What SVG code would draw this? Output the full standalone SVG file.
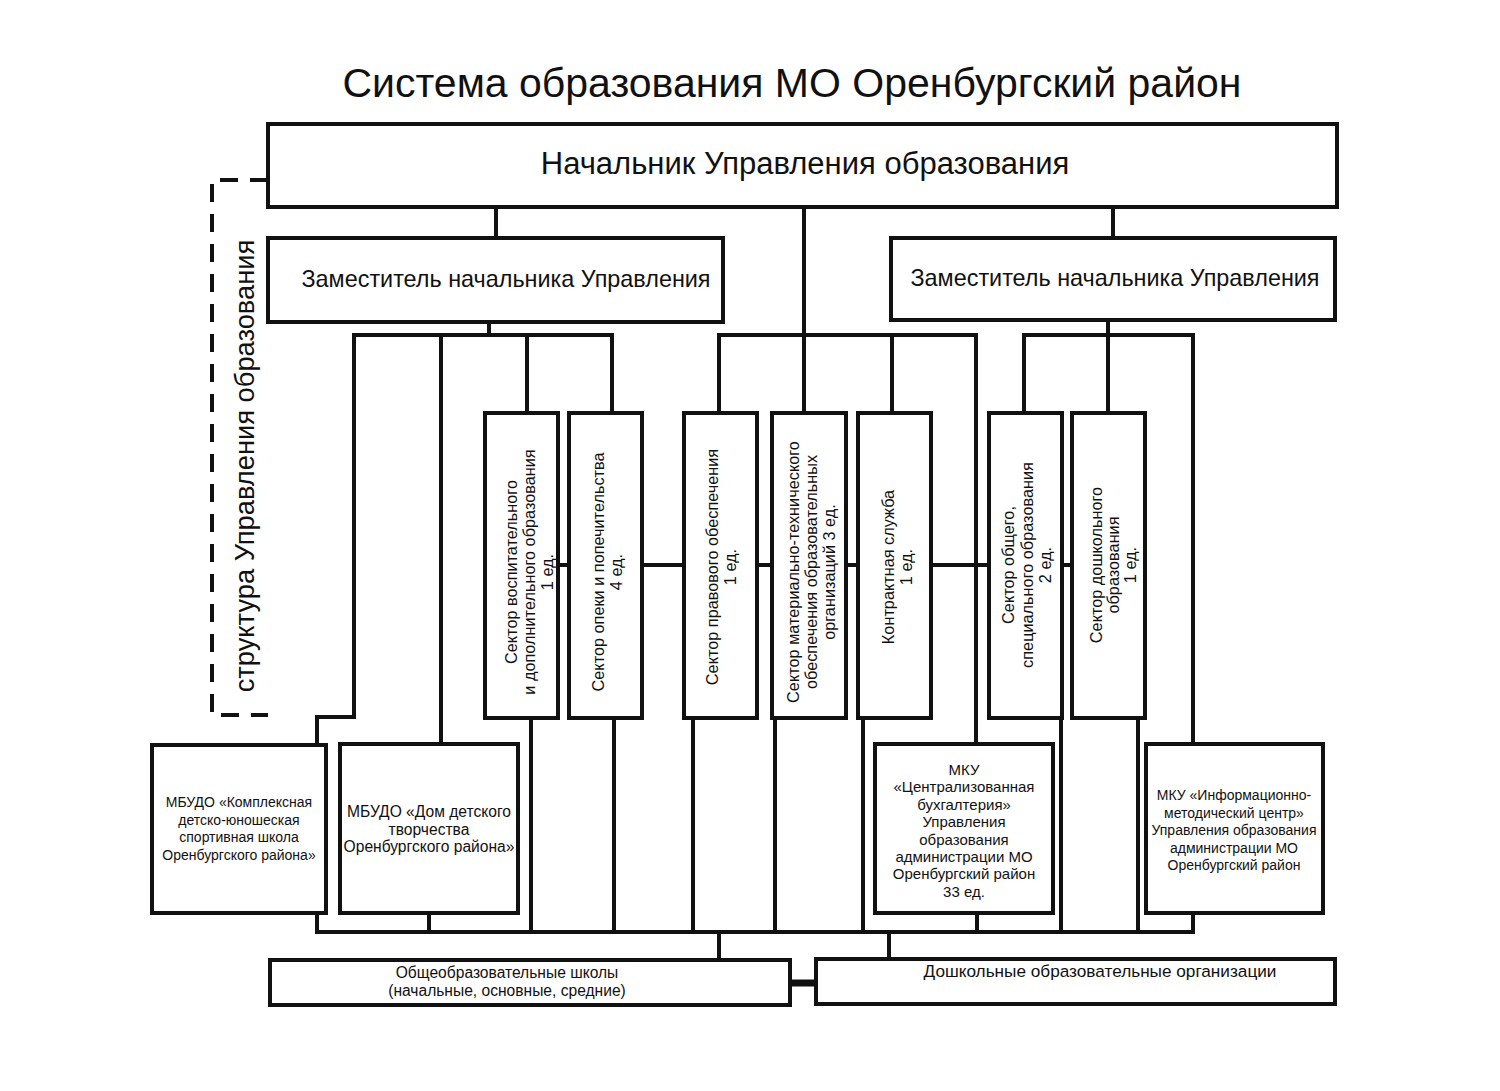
<svg xmlns="http://www.w3.org/2000/svg" width="1500" height="1091" viewBox="0 0 1500 1091">
<style>
.bg{fill:#fff}
.box{fill:#fff;stroke:#111;stroke-width:4}
.ln{fill:none;stroke:#111;stroke-width:4}
.dash{fill:none;stroke:#111;stroke-width:4;stroke-dasharray:18 12}
text{font-family:"Liberation Sans",Arial,sans-serif;fill:#111;text-anchor:middle}
.tv{font-size:16.3px}
.t14{font-size:14px}
.t15{font-size:15px}
</style>
<rect class="bg" x="0" y="0" width="1500" height="1091"/>
<text x="792" y="97" style="font-size:41px">Система образования МО Оренбургский район</text>

<g id="connectors">
<path class="dash" d="M268,180 H212 V715 H268"/>
<line class="ln" x1="496" y1="207" x2="496" y2="238"/>
<line class="ln" x1="1113" y1="207" x2="1113" y2="238"/>
<line class="ln" x1="804" y1="207" x2="804" y2="413"/>
<line class="ln" x1="489" y1="322" x2="489" y2="335"/>
<line class="ln" x1="352" y1="335" x2="614" y2="335"/>
<path class="ln" d="M354,335 V717 H317 V745"/>
<line class="ln" x1="441" y1="335" x2="441" y2="745"/>
<line class="ln" x1="527" y1="335" x2="527" y2="413"/>
<line class="ln" x1="612" y1="335" x2="612" y2="413"/>
<line class="ln" x1="717" y1="335" x2="978" y2="335"/>
<line class="ln" x1="719" y1="335" x2="719" y2="413"/>
<line class="ln" x1="892" y1="335" x2="892" y2="413"/>
<line class="ln" x1="976" y1="335" x2="976" y2="745"/>
<line class="ln" x1="1108" y1="320" x2="1108" y2="335"/>
<line class="ln" x1="1022" y1="335" x2="1195" y2="335"/>
<line class="ln" x1="1024" y1="335" x2="1024" y2="413"/>
<line class="ln" x1="1108" y1="335" x2="1108" y2="413"/>
<line class="ln" x1="1193" y1="335" x2="1193" y2="745"/>
<line class="ln" x1="558" y1="565" x2="1073" y2="565"/>
<line class="ln" x1="317" y1="913" x2="317" y2="932"/>
<line class="ln" x1="429" y1="913" x2="429" y2="932"/>
<line class="ln" x1="531" y1="718" x2="531" y2="932"/>
<line class="ln" x1="614" y1="718" x2="614" y2="932"/>
<line class="ln" x1="693" y1="718" x2="693" y2="932"/>
<line class="ln" x1="775" y1="718" x2="775" y2="932"/>
<line class="ln" x1="863" y1="718" x2="863" y2="932"/>
<line class="ln" x1="977" y1="913" x2="977" y2="932"/>
<line class="ln" x1="1061" y1="718" x2="1061" y2="932"/>
<line class="ln" x1="1138" y1="718" x2="1138" y2="932"/>
<line class="ln" x1="1193" y1="913" x2="1193" y2="932"/>
<line class="ln" x1="315" y1="932" x2="1195" y2="932"/>
<line class="ln" x1="719" y1="932" x2="719" y2="960"/>
<line class="ln" x1="889" y1="932" x2="889" y2="960"/>
<line x1="790" y1="983" x2="816" y2="983" style="stroke:#111;stroke-width:7"/>
</g>

<g id="structure-label">
<text transform="translate(254,466) rotate(-90)" style="font-size:27.3px">структура Управления образования</text>
</g>

<g id="head">
<rect class="box" x="268" y="124" width="1069" height="83"/>
<text x="805" y="174" style="font-size:31px">Начальник Управления образования</text>
</g>

<g id="deputy-left">
<rect class="box" x="268" y="238" width="455" height="84"/>
<text x="506" y="287" style="font-size:23.4px">Заместитель начальника Управления</text>
</g>

<g id="deputy-right">
<rect class="box" x="891" y="238" width="444" height="82"/>
<text x="1115" y="286" style="font-size:23.4px">Заместитель начальника Управления</text>
</g>

<g id="sector-vosp">
<rect class="box" x="485" y="413" width="73" height="305"/>
<text class="tv" transform="translate(517,572) rotate(-90)">Сектор воспитательного</text>
<text class="tv" transform="translate(535,572) rotate(-90)">и дополнительного образования</text>
<text class="tv" transform="translate(553,572) rotate(-90)">1 ед.</text>
</g>

<g id="sector-opeka">
<rect class="box" x="569" y="413" width="73" height="305"/>
<text class="tv" transform="translate(604,572) rotate(-90)">Сектор опеки и попечительства</text>
<text class="tv" transform="translate(622,572) rotate(-90)">4 ед.</text>
</g>

<g id="sector-pravo">
<rect class="box" x="684" y="413" width="73" height="305"/>
<text class="tv" transform="translate(718,567) rotate(-90)">Сектор правового обеспечения</text>
<text class="tv" transform="translate(736,567) rotate(-90)">1 ед.</text>
</g>

<g id="sector-mto">
<rect class="box" x="772" y="413" width="74" height="305"/>
<text class="tv" transform="translate(799,572) rotate(-90)">Сектор материально-технического</text>
<text class="tv" transform="translate(817,572) rotate(-90)">обеспечения образовательных</text>
<text class="tv" transform="translate(835,572) rotate(-90)">организаций 3 ед.</text>
</g>

<g id="kontrakt">
<rect class="box" x="858" y="413" width="73" height="305"/>
<text class="tv" transform="translate(894,567) rotate(-90)">Контрактная служба</text>
<text class="tv" transform="translate(912,567) rotate(-90)">1 ед.</text>
</g>

<g id="sector-obsh">
<rect class="box" x="989" y="413" width="73" height="305"/>
<text class="tv" transform="translate(1014,565) rotate(-90)">Сектор общего,</text>
<text class="tv" transform="translate(1033,565) rotate(-90)">специального образования</text>
<text class="tv" transform="translate(1051,565) rotate(-90)">2 ед.</text>
</g>

<g id="sector-dosh">
<rect class="box" x="1072" y="413" width="73" height="305"/>
<text class="tv" transform="translate(1102,565) rotate(-90)">Сектор дошкольного</text>
<text class="tv" transform="translate(1119,565) rotate(-90)">образования</text>
<text class="tv" transform="translate(1136,565) rotate(-90)">1 ед.</text>
</g>

<g id="mbudo-dush">
<rect class="box" x="152" y="745" width="174" height="168"/>
<text class="t14" x="239" y="807">МБУДО «Комплексная</text>
<text class="t14" x="239" y="825">детско-юношеская</text>
<text class="t14" x="239" y="842">спортивная школа</text>
<text class="t14" x="239" y="860">Оренбургского района»</text>
</g>

<g id="mbudo-ddt">
<rect class="box" x="340" y="744" width="178" height="169"/>
<text x="429" y="817" style="font-size:15.6px">МБУДО «Дом детского</text>
<text x="429" y="834.5" style="font-size:15.6px">творчества</text>
<text x="429" y="852" style="font-size:15.6px">Оренбургского района»</text>
</g>

<g id="mku-cb">
<rect class="box" x="875" y="744" width="178" height="169"/>
<text class="t15" x="964" y="775">МКУ</text>
<text class="t15" x="964" y="792.4">«Централизованная</text>
<text class="t15" x="964" y="809.8">бухгалтерия»</text>
<text class="t15" x="964" y="827.2">Управления</text>
<text class="t15" x="964" y="844.6">образования</text>
<text class="t15" x="964" y="862">администрации МО</text>
<text class="t15" x="964" y="879.4">Оренбургский район</text>
<text class="t15" x="964" y="896.8">33 ед.</text>
</g>

<g id="mku-imc">
<rect class="box" x="1146" y="744" width="177" height="169"/>
<text class="t14" x="1234" y="800">МКУ «Информационно-</text>
<text class="t14" x="1234" y="817.5">методический центр»</text>
<text class="t14" x="1234" y="835">Управления образования</text>
<text class="t14" x="1234" y="852.5">администрации МО</text>
<text class="t14" x="1234" y="870">Оренбургский район</text>
</g>

<g id="schools">
<rect class="box" x="270" y="960" width="520" height="45"/>
<text x="507" y="978" style="font-size:15.6px">Общеобразовательные школы</text>
<text x="507" y="996" style="font-size:15.6px">(начальные, основные, средние)</text>
</g>

<g id="preschool">
<rect class="box" x="816" y="959" width="519" height="45"/>
<text x="1100" y="977" style="font-size:17.2px">Дошкольные образовательные организации</text>
</g>
</svg>
